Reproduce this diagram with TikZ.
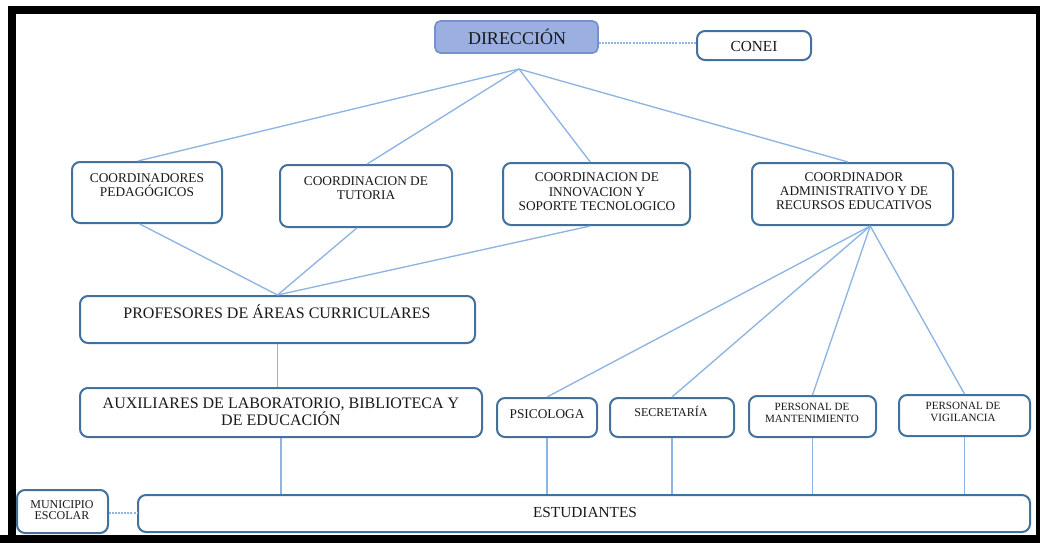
\documentclass[tikz,border=0pt]{standalone}
\usepackage{fontspec}
\setmainfont{Liberation Serif}
\usetikzlibrary{fit}

\definecolor{boxline}{RGB}{65,113,156}
\definecolor{linkline}{RGB}{141,180,226}
\definecolor{dirfill}{RGB}{155,175,225}
\definecolor{dirline}{RGB}{118,143,205}
\definecolor{txtgray}{RGB}{25,25,25}

\tikzset{every picture/.style={line width=0.75pt}}

\begin{document}
\begin{tikzpicture}[x=0.75pt,y=0.75pt,yscale=-1,xscale=1,
    box/.style={draw=boxline, line width=1.5pt, rounded corners=6pt, inner sep=0pt, fill=white},
    dirbox/.style={draw=dirline, line width=1.2pt, rounded corners=4pt, inner sep=0pt, fill=dirfill},
    link/.style={draw=linkline, line width=1pt},
    dotlink/.style={draw=linkline, line width=0.9pt, dash pattern={on 1.5pt off 0.8pt}},
    txt/.style={inner sep=0pt, align=center, text=txtgray}]
    \useasboundingbox (0,0) rectangle (1040,543);
    \fill [white] (0,0) rectangle (1040,543);

    %Shape: Frame
    \fill [black] (8,6) rectangle (1040,14);
    \fill [black] (8,6) rectangle (16,543);
    \fill [black] (0,535) rectangle (1040,543);
    \fill [black] (1036,6) rectangle (1040,543);

    %Shape: Rectangle [DIRECCION, CONEI]
    \node [dirbox, fit={(435,21) (598,53)}] (dir) {};
    \node [box, fit={(697,31) (811,60)}] (conei) {};
    \coordinate (hub) at (519,69);

    %Shape: Rectangle [coordinadores]
    \node [box, fit={(72,162) (222,223)}] (ped) {};
    \node [box, fit={(280,165) (452,227)}] (tut) {};
    \node [box, fit={(503,163) (690,225)}] (inn) {};
    \node [box, fit={(752,163) (953,225)}] (adm) {};

    %Shape: Rectangle [profesores, auxiliares]
    \node [box, fit={(80,296) (475,343)}] (prof) {};
    \node [box, fit={(80,388) (482,437)}] (aux) {};

    %Shape: Rectangle [personal]
    \node [box, fit={(497,398) (597,437)}] (psi) {};
    \node [box, fit={(610,398) (734,437)}] (sec) {};
    \node [box, fit={(749,396) (876,437)}] (man) {};
    \node [box, fit={(899,395) (1030,436)}] (vig) {};

    %Shape: Rectangle [estudiantes, municipio]
    \node [box, fit={(138,495) (1030,532)}] (est) {};
    \node [box, fit={(17,490) (108,533)}] (mun) {};

    %Straight Lines
    \draw [dotlink] (dir.east |- 0,43) -- (conei.west |- 0,43);
    \draw [link] (hub) -- (ped.106);
    \draw [link] (hub) -- (tut.88);
    \draw [link] (hub) -- (inn.101);
    \draw [link] (hub) -- (adm.98);
    \draw [link] (ped.257) -- (prof.north);
    \draw [link] (tut.254) -- (prof.north);
    \draw [link] (inn.259) -- (prof.north);
    \draw [link] (prof.south) -- (prof.south |- aux.north);
    \draw [link] (aux.south) -- (aux.south |- est.north);
    \draw [link] (adm.299) -- (psi.north);
    \draw [link] (adm.299) -- (sec.north);
    \draw [link] (adm.299) -- (man.north);
    \draw [link] (adm.299) -- (vig.north);
    \draw [link] (psi.south) -- (psi.south |- est.north);
    \draw [link] (sec.south) -- (sec.south |- est.north);
    \draw [link] (man.south) -- (man.south |- est.north);
    \draw [link] (vig.south) -- (vig.south |- est.north);
    \draw [dotlink] (mun.east |- 0,513) -- (est.west |- 0,513);

    % Text Node
    \node [txt, font=\fontsize{13.5}{15}\selectfont] (dirT) at (517,37) {DIRECCIÓN};
    % Text Node
    \node [txt, font=\fontsize{11.5}{13}\selectfont] (coneiT) at (754,46) {CONEI};
    % Text Node
    \node [txt, font=\fontsize{10}{10.5}\selectfont] (pedT) at (147,185) {COORDINADORES\\PEDAGÓGICOS};
    % Text Node
    \node [txt, font=\fontsize{10}{10.5}\selectfont] (tutT) at (366,188) {COORDINACION DE\\TUTORIA};
    % Text Node
    \node [txt, font=\fontsize{10}{10.8}\selectfont] (innT) at (597,192) {COORDINACION DE\\INNOVACION Y\\SOPORTE TECNOLOGICO};
    % Text Node
    \node [txt, font=\fontsize{10}{10.5}\selectfont] (admT) at (854,191) {COORDINADOR\\ADMINISTRATIVO Y DE\\RECURSOS EDUCATIVOS};
    % Text Node
    \node [txt, font=\fontsize{12}{13}\selectfont] (profT) at (277,312) {PROFESORES DE ÁREAS CURRICULARES};
    % Text Node
    \node [txt, font=\fontsize{12}{12.5}\selectfont] (auxT) at (281,412) {AUXILIARES DE LABORATORIO, BIBLIOTECA Y\\DE EDUCACIÓN};
    % Text Node
    \node [txt, font=\fontsize{10}{11}\selectfont] (psiT) at (547,414) {PSICOLOGA};
    % Text Node
    \node [txt, font=\fontsize{9}{10}\selectfont] (secT) at (671,411) {SECRETARÍA};
    % Text Node
    \node [txt, font=\fontsize{8.3}{9}\selectfont] (manT) at (812,413) {PERSONAL DE\\MANTENIMIENTO};
    % Text Node
    \node [txt, font=\fontsize{8.3}{9}\selectfont] (vigT) at (963,412) {PERSONAL DE\\VIGILANCIA};
    % Text Node
    \node [txt, font=\fontsize{11.5}{13}\selectfont] (estT) at (585,512) {ESTUDIANTES};
    % Text Node
    \node [txt, font=\fontsize{9}{8.5}\selectfont] (munT) at (62,510) {MUNICIPIO\\ESCOLAR};

\end{tikzpicture}
\end{document}
